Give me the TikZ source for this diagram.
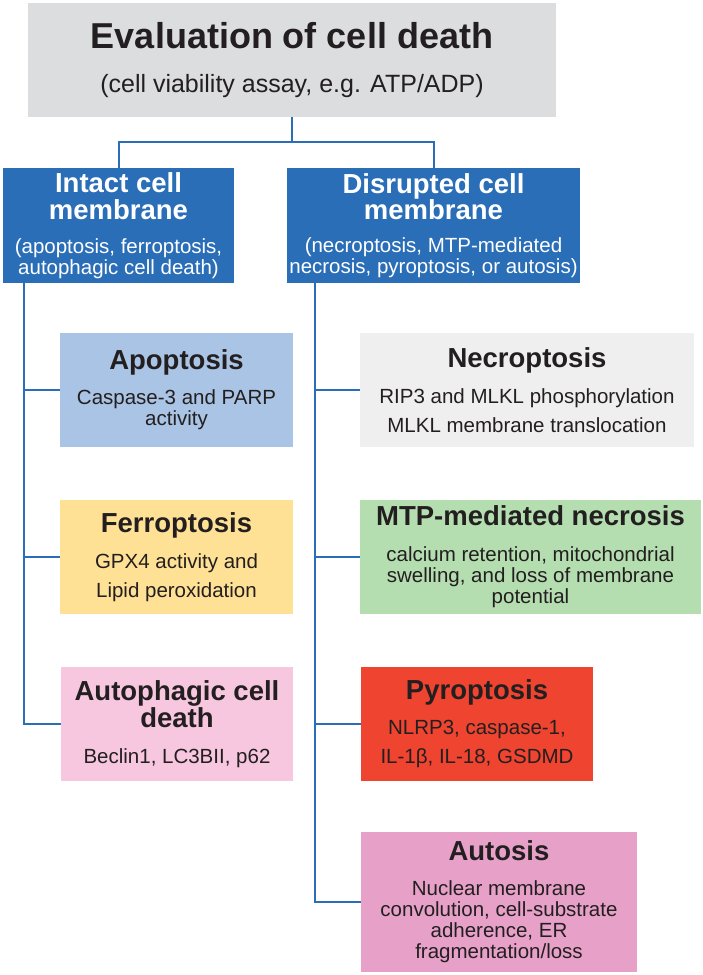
\documentclass[tikz,border=0pt]{standalone}
\usepackage{fontspec}
\setmainfont{Liberation Sans}
\usepackage{xcolor}
\usetikzlibrary{positioning}

\definecolor{ink}{HTML}{231F20}
\definecolor{lineblue}{HTML}{2A6EB8}
\definecolor{headblue}{HTML}{2A6EB8}
\definecolor{titlegray}{HTML}{DCDDDF}
\definecolor{apopblue}{HTML}{A9C4E4}
\definecolor{necrogray}{HTML}{EFEFEF}
\definecolor{ferroyellow}{HTML}{FFE195}
\definecolor{mtpgreen}{HTML}{B4DDB0}
\definecolor{autophpink}{HTML}{F6C7DF}
\definecolor{pyrored}{HTML}{EE4430}
\definecolor{autosispink}{HTML}{E7A1C8}

\newcommand\cellhead{\fontsize{27.5}{27}\selectfont\bfseries}
\newcommand\cellbody{\fontsize{20.5}{21}\selectfont\mdseries}

\begin{document}
\begin{tikzpicture}[x=1pt,y=-1pt,
          conn/.style={draw=lineblue,line width=2pt},
          cell/.style={rectangle,inner sep=0pt,align=center,text=ink,minimum height=114pt,font=\cellbody},
          memb/.style={cell,fill=headblue,text=white,minimum height=115pt}]
        \useasboundingbox (0,0) rectangle (702,975);
        \node[cell,fill=titlegray,minimum width=528pt] (eval) at (292,60)
          {\fontsize{36}{36}\selectfont\bfseries Evaluation of cell death\\[23pt]
           \fontsize{25}{25}\selectfont (cell viability assay, e.g. ATP/ADP)};
        \node[memb,minimum width=231pt] (intact) at (118.5,225.5)
          {\cellhead Intact cell\\[6pt] \cellhead membrane\\[13pt]
           (apoptosis, ferroptosis,\\ autophagic cell death)};
        \node[memb,minimum width=293pt] (disrupted) at (433.5,225.5)
          {\cellhead Disrupted cell\\ \cellhead membrane\\[12pt]
           (necroptosis, MTP-mediated\\ necrosis, pyroptosis, or autosis)};
        % intact membrane branch
        \node[cell,fill=apopblue,minimum width=233pt] (apop) at (176.5,390)
          {\cellhead Apoptosis\\[14pt] Caspase-3 and PARP\\ activity};
        \node[cell,fill=ferroyellow,minimum width=233pt] (ferro) at (176.5,557)
          {\cellhead Ferroptosis\\[15pt] GPX4 activity and\\[8pt] Lipid peroxidation};
        \node[cell,fill=autophpink,minimum width=232pt] (autoph) at (177,724)
          {\cellhead Autophagic cell\\ \cellhead death\\[15pt] Beclin1, LC3BII, p62};
        % disrupted membrane branch
        \node[cell,fill=necrogray,minimum width=334pt] (necro) at (527,390)
          {\cellhead Necroptosis\\[15pt] RIP3 and MLKL phosphorylation\\[8pt] MLKL membrane translocation};
        \node[cell,fill=mtpgreen,minimum width=341pt] (mtp) at (530.5,557)
          {\cellhead MTP-mediated necrosis\\[15pt] calcium retention, mitochondrial\\ swelling, and loss of membrane\\ potential};
        \node[cell,fill=pyrored,minimum width=232pt] (pyro) at (477,724)
          {\cellhead Pyroptosis\\[14pt] NLRP3, caspase-1,\\[8pt] IL-1β, IL-18, GSDMD};
        \node[cell,fill=autosispink,minimum width=276pt,minimum height=140pt] (autosis) at (499,902)
          {\cellhead Autosis\\[14pt] Nuclear membrane\\ convolution, cell-substrate\\ adherence, ER\\ fragmentation/loss};
        \coordinate (lspine) at (24,0);
        \coordinate (rspine) at (315,0);
        \draw[conn] (eval.south) -- ++(0,25) coordinate (fork);
        \draw[conn] (fork) -| (intact.north);
        \draw[conn] (fork) -| (disrupted.north);
        \draw[conn] (intact.south -| lspine) |- (autoph.west);
        \draw[conn] (lspine |- apop.west) -- (apop.west);
        \draw[conn] (lspine |- ferro.west) -- (ferro.west);
        \draw[conn] (disrupted.south -| rspine) |- (autosis.west);
        \draw[conn] (rspine |- necro.west) -- (necro.west);
        \draw[conn] (rspine |- mtp.west) -- (mtp.west);
        \draw[conn] (rspine |- pyro.west) -- (pyro.west);
      \end{tikzpicture}
\end{document}
